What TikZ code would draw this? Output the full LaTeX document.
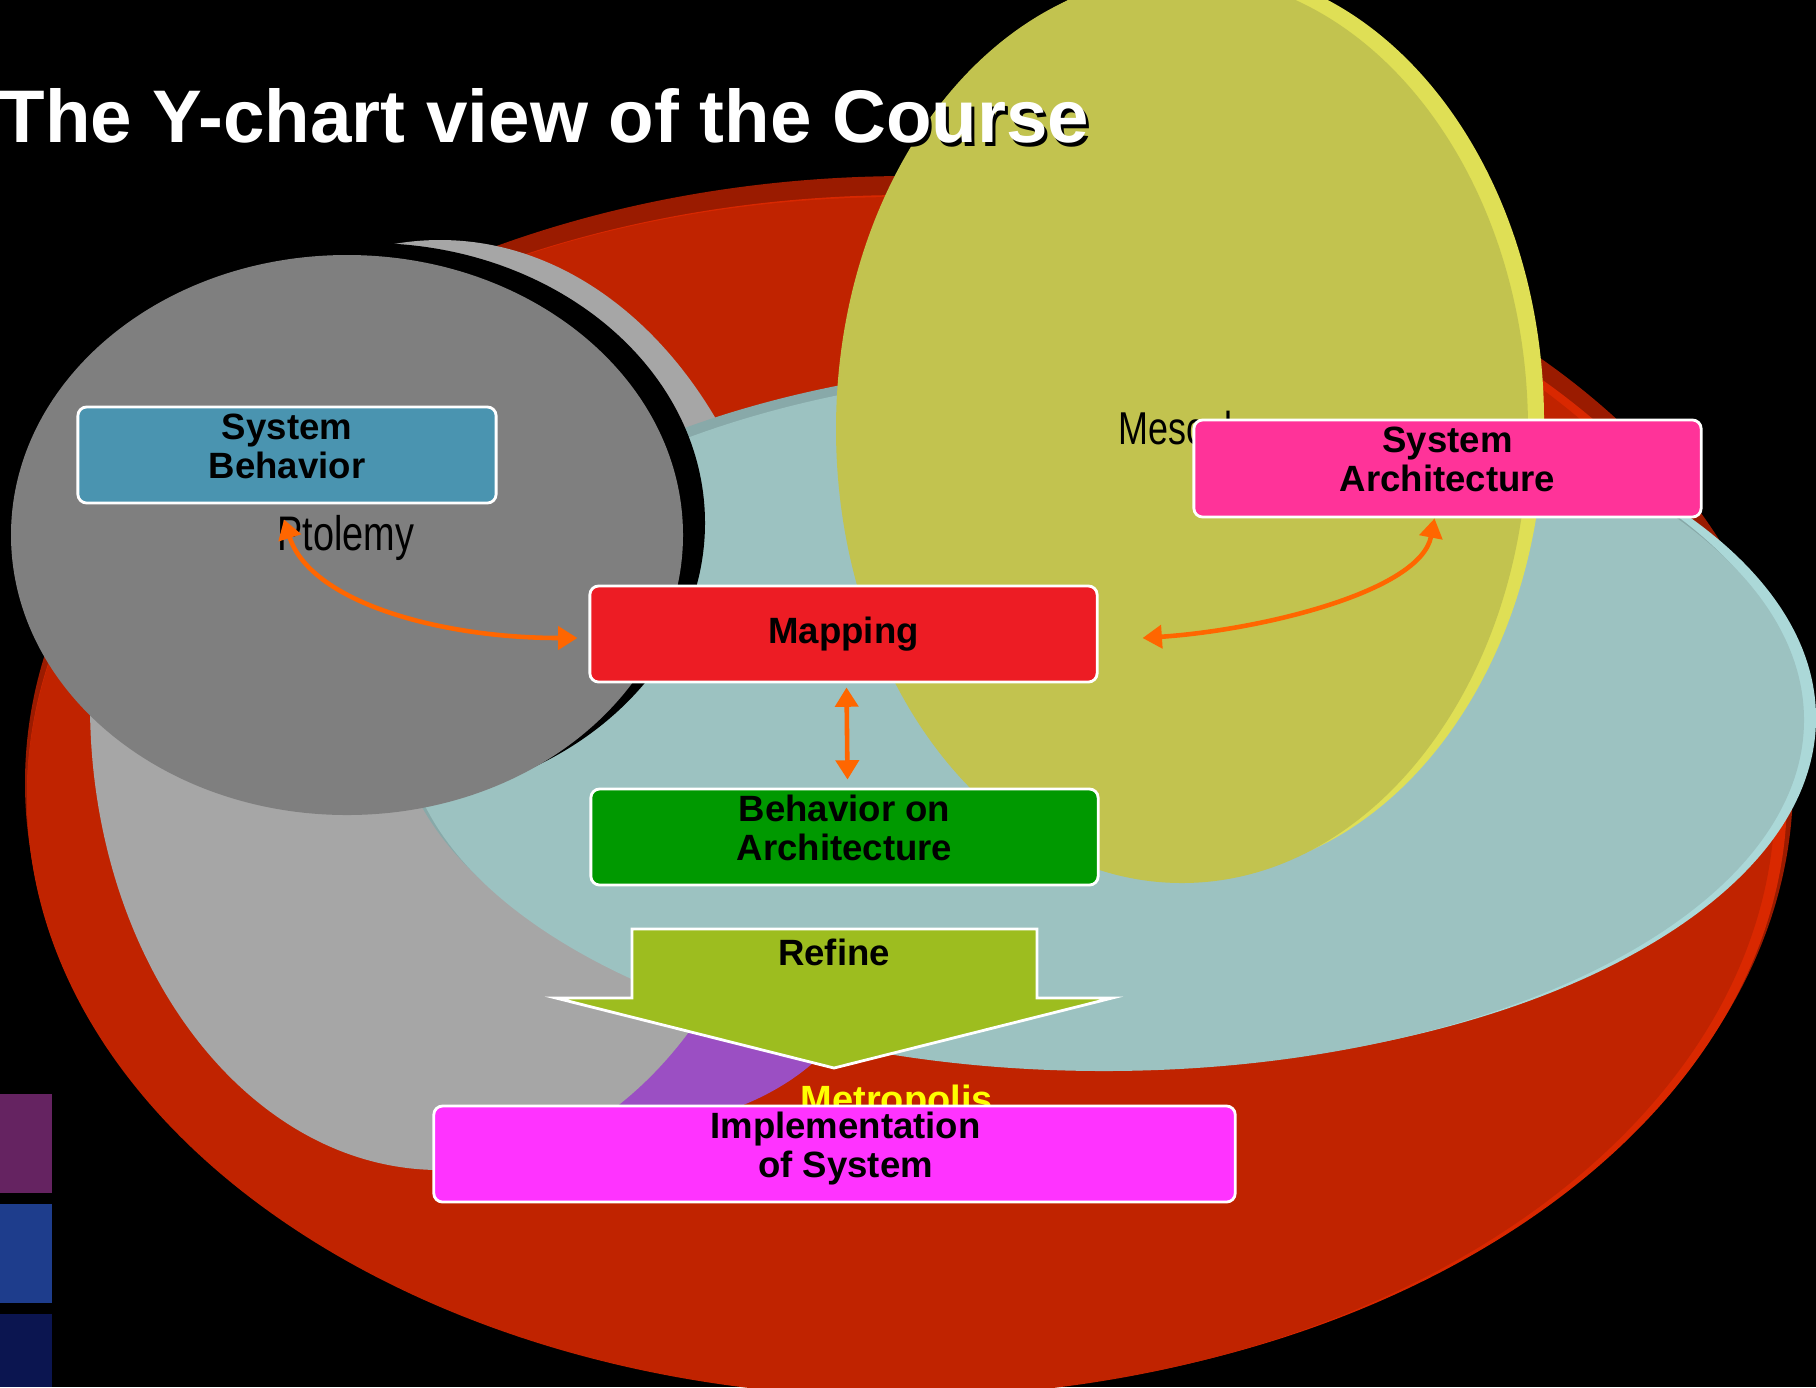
\documentclass[tikz,border=0pt]{standalone}
\usepackage{fontspec}
\setmainfont{Liberation Sans}
\newfontfamily\condfont[FakeStretch=0.78]{Liberation Sans}
\usetikzlibrary{arrows.meta,calc}
\definecolor{reddark}{HTML}{9A1B00}
\definecolor{redbright}{HTML}{D92800}
\definecolor{redmain}{HTML}{C02300}
\definecolor{purp}{HTML}{9B4FC3}
\definecolor{lgray}{HTML}{A6A6A6}
\definecolor{tealrim}{HTML}{ABD8D8}
\definecolor{tealdark}{HTML}{88A9A9}
\definecolor{tealface}{HTML}{9CC2C1}
\definecolor{dgray}{HTML}{7F7F7F}
\definecolor{yelrim}{HTML}{DFDF55}
\definecolor{yelface}{HTML}{C2C34F}
\definecolor{sbblue}{HTML}{4A94B0}
\definecolor{sapink}{HTML}{FF3399}
\definecolor{mapred}{HTML}{ED1C24}
\definecolor{boagreen}{HTML}{009900}
\definecolor{implmag}{HTML}{FF33FF}
\definecolor{refgreen}{HTML}{9DBD1F}
\definecolor{arrorange}{HTML}{FF6600}
\definecolor{sqpurple}{HTML}{652361}
\definecolor{sqblue}{HTML}{1E3D8C}
\definecolor{sqnavy}{HTML}{0B1550}
\definecolor{metroyel}{HTML}{FFFF00}
\newcommand{\dnstrut}{\rule[-0.18cm]{0pt}{0.18cm}}
\begin{document}
\begin{tikzpicture}[x=0.01cm,y=-0.01cm,
  box/.style={draw=white, line width=0.8pt, rounded corners=2.5pt, align=center,
    font=\bfseries\fontsize{10.4}{11.1}\selectfont, text=black, inner sep=0pt},
  oarrow/.style={draw=arrorange, line width=1.3pt,
    {Triangle[length=5.5pt,width=6.5pt]}-{Triangle[length=5.5pt,width=6.5pt]}},
  plainlbl/.style={inner sep=0pt, text=black},
]
\fill[black] (0,0) rectangle (1816,1387);
\useasboundingbox (0,0) rectangle (1816,1387);
\clip (0,0) rectangle (1816,1387);

% red disc (Metropolis)
\fill[reddark] (909,783) ellipse [x radius=884, y radius=607];
\fill[redbright] (907,795) ellipse [x radius=880, y radius=600];
\fill[redmain] (901,797) ellipse [x radius=874, y radius=600];

% purple sliver
\fill[purp] (610,960) ellipse [x radius=255, y radius=170];

% light gray disc
\fill[lgray] (440,705) ellipse [x radius=350, y radius=465];

% teal disc
\fill[tealrim] (1118,718) ellipse [x radius=698, y radius=350];
\fill[tealdark] (1096,712) ellipse [x radius=700, y radius=351];
\fill[tealface] (1104,720) ellipse [x radius=700, y radius=351];

% dark gray disc (Ptolemy)
\fill[black] (369,523) ellipse [x radius=336, y radius=280];
\fill[dgray] (347,535) ellipse [x radius=336, y radius=280];

% yellow disc (Mescal)
\fill[yelrim] (1198,421) ellipse [x radius=346, y radius=454];
\fill[yelface] (1182,429) ellipse [x radius=346, y radius=454];

% disc labels
\node[plainlbl, anchor=base west, font=\condfont\fontsize{13.8}{14}\selectfont] (ptol) at (277,550) {Ptolemy};
\node[plainlbl, anchor=base west, font=\condfont\fontsize{13.1}{14}\selectfont] (mesc) at (1118,444) {Mescal};
\node[inner sep=0pt, anchor=base west, text=metroyel,
  font=\bfseries\fontsize{10.8}{12}\selectfont] (metro) at (800,1112) {Metropolis};

% boxes
\node[box, fill=sbblue, minimum width=4.18cm, minimum height=0.96cm] (sb) at (287,455) {System\\Behavior\dnstrut};
\node[box, fill=sapink, minimum width=5.07cm, minimum height=0.97cm] (sa) at (1447.5,468.5) {System\\Architecture\dnstrut};
\node[box, fill=mapred, minimum width=5.07cm, minimum height=0.96cm] (map) at (843.5,634) {Mapping};
\node[box, fill=boagreen, minimum width=5.07cm, minimum height=0.96cm] (boa) at (844.5,837) {Behavior on\\Architecture\dnstrut\dnstrut};
\node[box, fill=implmag, minimum width=8.01cm, minimum height=0.96cm] (impl) at (834.5,1154) {\hspace*{0.22cm}Implementation\\\hspace*{0.22cm}of System\dnstrut};

% refine arrow
\fill[refgreen, draw=white, line width=0.8pt] (632,929) -- (1037,929) -- (1037,998) -- (1112,998)
  -- (834,1068) -- (556,998) -- (632,998) -- cycle;
\node[inner sep=0pt, anchor=base, font=\bfseries\fontsize{10.4}{11.1}\selectfont] (refine) at (834,965) {Refine};

% connectors
\coordinate (ptip) at ($(sb.south)+(-3,15)$);
\coordinate (mapL) at ($(map.west)+(-11,4)$);
\coordinate (atip) at ($(sa.south)+(-13,0)$);
\coordinate (mapR) at ($(map.east)+(44,4)$);
\draw[oarrow] (ptip) .. controls ($(ptip)+(26,82)$) and ($(mapL)+(-139,0)$) .. (mapL);
\draw[oarrow] (atip) .. controls ($(atip)+(-14,73)$) and ($(mapR)+(119,-8)$) .. (mapR);
\draw[oarrow] ($(map.south)+(3,4)$) -- ($(boa.north)+(3,-8)$);

% left squares
\fill[sqpurple] (0,1094) rectangle (52,1193);
\fill[sqblue] (0,1204) rectangle (52,1303);
\fill[sqnavy] (0,1314) rectangle (52,1387);

% title
\node[inner sep=0pt, anchor=base west, text=black, font=\bfseries\fontsize{21.2}{24}\selectfont] (titleshadow) at (2,146) {The Y-chart view of the Course};
\node[inner sep=0pt, anchor=base west, text=white, font=\bfseries\fontsize{21.2}{24}\selectfont] (title) at (-1,142) {The Y-chart view of the Course};
\end{tikzpicture}
\end{document}
